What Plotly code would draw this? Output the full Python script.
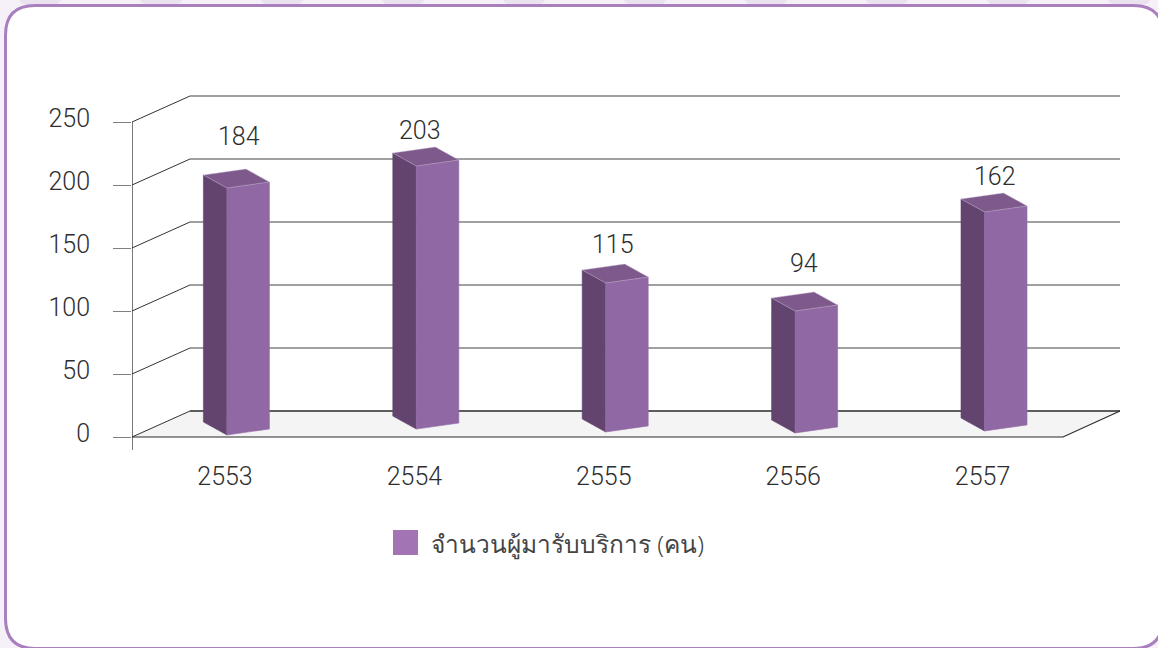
import plotly.graph_objects as go

# ---- data ----
years = ["2553", "2554", "2555", "2556", "2557"]
values = [184, 203, 115, 94, 162]                 # printed data labels
# The source's 3-D bars do not sit exactly on its axis, so their drawn extent
# is read separately, in axis units on the front plane.
bar_tops = [197.6, 215.1, 122.2, 100.0, 178.6]
bar_bases = [1.6, 6.3, 4.0, 3.2, 4.8]
y_ticks = [0, 50, 100, 150, 200, 250]
series_name = "จำนวนผู้มารับบริการ (คน)"

# ---- layout constants ----
W, H = 1158, 648
L, R, T, B = 132, 1158, 90, 450           # plot area in pixels
CAT_PX, CAT0_PX = 189.4, 225.0            # pixels per category, first category
UNIT_PX = 1.26                            # pixels per axis unit
Y0_PX = 437
xr = [(L - CAT0_PX) / CAT_PX, (R - CAT0_PX) / CAT_PX]
yr = [(Y0_PX - B) / UNIT_PX, (Y0_PX - T) / UNIT_PX]

def dx(p): return p / CAT_PX
def dy(p): return p / UNIT_PX
def px(x): return (x - L) / (R - L)
def py(y): return (B - y) / (B - T)

PURPLE_FRONT, PURPLE_SIDE, PURPLE_TOP = "#9069a4", "#62446f", "#7d5a8b"
EDGE = "rgba(205,185,215,0.7)"
TEXT = "#2e2e2e"
FONT = "Roboto"
DIGIT_SIZE = 25
label_shift_x = [14, 6, 9, 11, 12]
label_shift_y = [52, 35, 39, 48, 35]

fig = go.Figure()

def line(xs, ys, color, width):
    fig.add_trace(go.Scatter(x=xs, y=ys, mode="lines", cliponaxis=False, hoverinfo="skip",
                             line=dict(color=color, width=width), showlegend=False))

def poly(xs, ys, fill, edge=None):
    fig.add_trace(go.Scatter(x=xs + xs[:1], y=ys + ys[:1], mode="lines", fill="toself",
                             fillcolor=fill, cliponaxis=False, hoverinfo="skip",
                             line=dict(color=edge or fill, width=0.6), showlegend=False))

x_left, x_tick = xr[0], xr[0] - dx(18)
x_floor_front_end = x_left + dx(931)
depth_x, depth_y = dx(58), dy(26)
x_back_end = x_left + dx(988)

# floor
poly([x_left, x_left + depth_x, x_back_end, x_floor_front_end], [0, depth_y, depth_y, 0], "#f4f4f4")

# walls
for v in y_ticks:
    dark = v == 0
    line([x_left, x_left + depth_x], [v, v + depth_y], "#333333", 1)
    line([x_left + depth_x, x_back_end], [v + depth_y, v + depth_y], "#2b2b2b" if dark else "#808080", 1.3)
line([x_tick, x_floor_front_end, x_back_end], [0, 0, depth_y], "#2b2b2b", 1.2)
line([x_left, x_left], [(Y0_PX - B) / UNIT_PX, y_ticks[-1]], "#1f1f1f", 1.2)

# bars
for i in range(len(years)):
    xl = i + dx(1.9)
    w, sx, sy, skew = dx(42.5), dx(23.5), dy(13), dy(6)
    top, base = bar_tops[i], bar_bases[i]
    # left face
    poly([xl - sx, xl, xl, xl - sx], [base + sy, base, top, top + sy], PURPLE_SIDE)
    # front face
    poly([xl, xl + w, xl + w, xl], [base, base + skew, top + skew, top], PURPLE_FRONT)
    # top face
    poly([xl, xl + w, xl + w - sx, xl - sx], [top, top + skew, top + skew + sy, top + sy], PURPLE_TOP, EDGE)

annotations = [
    dict(x=i, y=bar_tops[i], xref="x", yref="y", text=str(values[i]), showarrow=False,
         xshift=label_shift_x[i], yshift=label_shift_y[i], xanchor="center", yanchor="middle",
         font=dict(family=FONT, size=DIGIT_SIZE, color=TEXT, weight=300))
    for i in range(len(years))
]
annotations.append(dict(x=px(429), y=py(543), xref="paper", yref="paper", text=series_name,
                        showarrow=False, xanchor="left", yanchor="middle",
                        font=dict(family="Noto Sans, sans-serif", size=24.5, color="#444444", weight=300)))

shapes = [
    dict(type="path", xref="paper", yref="paper", layer="below",
         path=(f"M {px(5.5)},{py(35)} Q {px(5.5)},{py(5.5)} {px(35)},{py(5.5)} "
               f"L {px(1133)},{py(5.5)} Q {px(1163)},{py(5.5)} {px(1163)},{py(35)} "
               f"L {px(1163)},{py(618)} Q {px(1163)},{py(648.5)} {px(1133)},{py(648.5)} "
               f"L {px(35)},{py(648.5)} Q {px(5.5)},{py(648.5)} {px(5.5)},{py(618)} Z"),
         fillcolor="white", line=dict(color="#aa7fbe", width=3)),
    dict(type="rect", xref="paper", yref="paper", layer="below",
         x0=px(393), x1=px(418), y0=py(555), y1=py(530), fillcolor="#a274b4", line=dict(width=0)),
]
# faint ornaments of the page behind the card
for cx in range(40, 1158, 121):
    shapes.insert(0, dict(type="circle", xref="paper", yref="paper", layer="below",
                          x0=px(cx - 22), x1=px(cx + 22), y0=py(8), y1=py(-14),
                          fillcolor="#ebe2f0", line=dict(width=0)))

fig.update_layout(
    width=W, height=H, margin=dict(l=L, r=W - R, t=T, b=H - B, pad=0),
    paper_bgcolor="#f6f1f8", plot_bgcolor="rgba(0,0,0,0)", showlegend=False,
    shapes=shapes, annotations=annotations, hovermode=False,
    xaxis=dict(range=xr, tickmode="array", tickvals=list(range(len(years))), ticktext=years,
               showgrid=False, zeroline=False, showline=False, ticks="", ticklabelstandoff=9,
               automargin=False, tickfont=dict(family=FONT, size=DIGIT_SIZE, color=TEXT, weight=300)),
    yaxis=dict(range=yr, tickmode="array", tickvals=y_ticks, ticktext=[str(v) for v in y_ticks],
               showgrid=False, zeroline=False, showline=False,
               ticks="outside", ticklen=18, tickcolor="#808080", tickwidth=1.2, ticklabelstandoff=18,
               ticklabelshift=-4, automargin=False,
               tickfont=dict(family=FONT, size=DIGIT_SIZE, color=TEXT, weight=300)),
)

fig.write_html("out.html", config=dict(displayModeBar=False),
               post_script="document.body.style.margin='0';document.body.style.overflow='hidden';")
